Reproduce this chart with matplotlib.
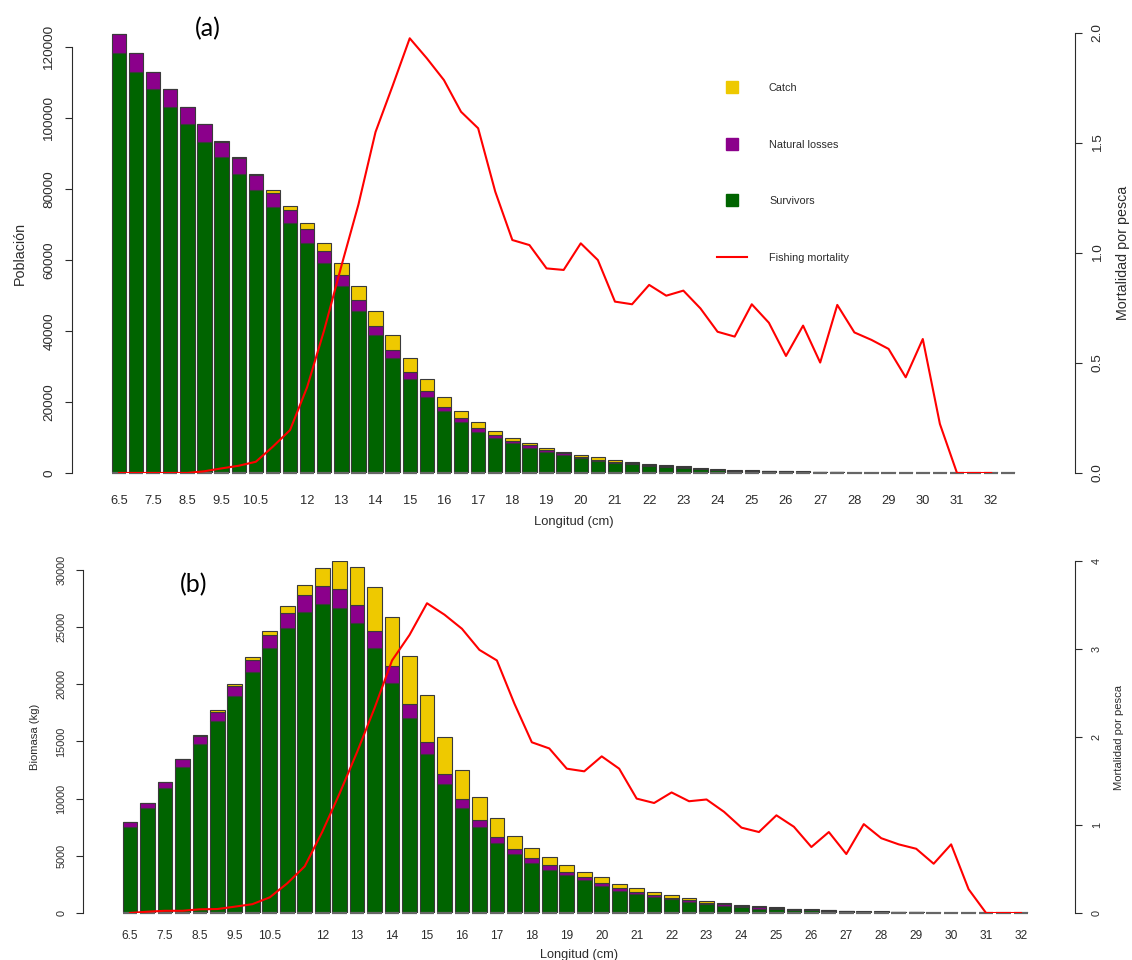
import numpy as np
import matplotlib.pyplot as plt
from matplotlib.lines import Line2D

plt.rcParams['font.family'] = ['Liberation Sans', 'DejaVu Sans']
TXT = '#2b2b2b'
plt.rcParams['text.color'] = TXT
plt.rcParams['axes.labelcolor'] = TXT
plt.rcParams['xtick.color'] = TXT
plt.rcParams['ytick.color'] = TXT

GREEN = '#006400'
PURPLE = '#8B008B'
YELLOW = '#EEC900'
EDGE = '#3a3a3a'
BAR_W = 0.42

# length classes (cm)
len_a = np.arange(6.5, 33.0, 0.5)      # 53 classes in panel (a)
len_b = np.arange(6.5, 32.5, 0.5)      # 52 classes in panel (b)
len_f = np.arange(6.5, 32.5, 0.5)      # fishing mortality points

tick_pos = [6.5, 7.5, 8.5, 9.5, 10.5, 12, 13, 14, 15, 16, 17, 18, 19, 20, 21,
            22, 23, 24, 25, 26, 27, 28, 29, 30, 31, 32]
tick_lab = ['6.5', '7.5', '8.5', '9.5', '10.5', '12', '13', '14', '15', '16',
            '17', '18', '19', '20', '21', '22', '23', '24', '25', '26', '27',
            '28', '29', '30', '31', '32']

# (a) population numbers
surv_a = [118200, 113000, 108100, 103000, 98200, 93300, 88900, 84100, 79600,
          75000, 70300, 64900, 59100, 52700, 45600, 38900, 32300, 26400, 21500,
          17500, 14400, 11600, 9900, 8400, 7000, 5900, 5000, 4200, 3500, 2900,
          2400, 2000, 1700, 1500, 1100, 800, 600, 600, 450, 400, 300, 200, 150,
          50, 0, 0, 0, 0, 0, 0, 0, 0, 0]
nat_a = [5500, 5200, 4900, 5100, 4800, 4900, 4400, 4600, 4300, 4000, 3800,
         3700, 3500, 3100, 3000, 2500, 2400, 2000, 1600, 1200, 1100, 1200, 900,
         700, 800, 600, 500, 400, 300, 300, 300, 200, 200, 150, 100, 100, 100,
         50, 50, 50, 50, 20, 20, 20, 0, 0, 0, 0, 0, 0, 0, 0, 0]
catch_a = [0, 0, 0, 0, 50, 100, 100, 300, 300, 600, 1000, 1900, 2300, 3300,
           4100, 4200, 4200, 3900, 3300, 2800, 2000, 1600, 900, 900, 700, 500,
           400, 500, 600, 500, 500, 400, 300, 250, 200, 200, 100, 150, 100, 100,
           100, 80, 80, 30, 0, 0, 0, 0, 0, 0, 0, 0, 0]
fmort_a = [0, 0, 0, 0, 0, 0.008, 0.021, 0.033, 0.051, 0.12, 0.195, 0.39, 0.65,
           0.94, 1.22, 1.55, 1.76, 1.976, 1.885, 1.786, 1.642, 1.567, 1.279,
           1.059, 1.036, 0.93, 0.923, 1.044, 0.968, 0.779, 0.767, 0.855, 0.806,
           0.829, 0.748, 0.642, 0.62, 0.767, 0.683, 0.532, 0.67, 0.502, 0.764,
           0.639, 0.605, 0.564, 0.435, 0.609, 0.223, 0, 0, 0]

# (b) biomass (kg)
surv_b = [7550, 9160, 10910, 12800, 14790, 16830, 18960, 21050, 23150, 24900,
          26300, 27000, 26710, 25340, 23150, 20150, 17030, 13940, 11310, 9190,
          7490, 6120, 5130, 4400, 3760, 3300, 2860, 2360, 1950, 1660, 1370,
          1200, 960, 790, 640, 500, 390, 350, 270, 230, 180, 140, 100, 100, 60,
          60, 0, 0, 0, 0, 0, 0]
nat_b = [380, 460, 520, 640, 650, 750, 900, 1100, 1200, 1350, 1500, 1580, 1610,
         1600, 1520, 1430, 1260, 1050, 850, 780, 620, 530, 440, 440, 410, 290,
         260, 290, 210, 210, 200, 110, 140, 120, 110, 130, 100, 80, 60, 50, 40,
         30, 30, 20, 20, 20, 0, 0, 0, 0, 0, 0]
catch_b = [0, 0, 0, 0, 100, 150, 150, 200, 300, 580, 900, 1600, 2450, 3300,
           3880, 4350, 4220, 4050, 3270, 2510, 2010, 1630, 1170, 820, 700, 580,
           470, 470, 380, 290, 300, 240, 180, 140, 100, 100, 120, 70, 50, 40, 40,
           30, 30, 30, 10, 10, 0, 0, 0, 0, 0, 0]
fmort_b = [0.0, 0.015, 0.025, 0.025, 0.042, 0.045, 0.072, 0.10, 0.178, 0.337,
           0.53, 0.92, 1.36, 1.83, 2.33, 2.87, 3.16, 3.52, 3.39, 3.23, 2.99,
           2.87, 2.38, 1.94, 1.87, 1.64, 1.61, 1.78, 1.64, 1.30, 1.25, 1.37,
           1.27, 1.29, 1.15, 0.97, 0.92, 1.11, 0.98, 0.75, 0.92, 0.67, 1.01,
           0.85, 0.78, 0.73, 0.56, 0.78, 0.27, 0, 0, 0]


def panel(rect, x, surv, nat, catch, fm, xlim, ylim, yticks, y2lim, y2ticks,
          ylabel, fs_y, fs_x, fs_lab, fs_xlab, xpad, xlabpad):
    ax = fig.add_axes(rect)
    surv = np.array(surv, float)
    nat = np.array(nat, float)
    catch = np.array(catch, float)
    kw = dict(width=BAR_W, edgecolor=EDGE, linewidth=0.8)
    ax.bar(x, surv, color=GREEN, **kw)
    ax.bar(x, nat, bottom=surv, color=PURPLE, **kw)
    ax.bar(x, catch, bottom=surv + nat, color=YELLOW, **kw)
    # bottom outline of every bar (also visible for empty classes)
    ax.hlines(np.zeros(len(x)), x - BAR_W / 2, x + BAR_W / 2, color='#666666',
              lw=1.6, clip_on=False, zorder=3)
    ax.set_xlim(*xlim)
    ax.set_ylim(*ylim)
    for s in ['top', 'right', 'bottom']:
        ax.spines[s].set_visible(False)
    ax.spines['left'].set_bounds(yticks[0], yticks[-1])
    ax.spines['left'].set_color(TXT)
    ax.set_yticks(yticks)
    ax.set_yticklabels([str(v) for v in yticks], fontsize=fs_y)
    for lab in ax.get_yticklabels():
        lab.set_rotation(90)
        lab.set_va('center')
    ax.tick_params(axis='y', length=5, width=0.8, pad=7)
    ax.set_xticks(tick_pos)
    ax.set_xticklabels(tick_lab, fontsize=fs_x)
    ax.tick_params(axis='x', length=0, pad=xpad)
    ax.set_xlabel('Longitud (cm)', fontsize=fs_xlab, labelpad=xlabpad)
    ax.set_ylabel(ylabel, fontsize=fs_lab, labelpad=12)

    ax2 = ax.twinx()
    ax2.plot(len_f, fm, color='red', lw=1.5)
    ax2.set_ylim(*y2lim)
    for s in ['top', 'left', 'bottom']:
        ax2.spines[s].set_visible(False)
    ax2.spines['right'].set_bounds(y2ticks[0], y2ticks[-1])
    ax2.spines['right'].set_color(TXT)
    ax2.set_yticks(y2ticks)
    ax2.set_yticklabels([('%g' % v if y2lim[1] > 2 else '%.1f' % v) for v in y2ticks],
                        fontsize=fs_y)
    for lab in ax2.get_yticklabels():
        lab.set_rotation(90)
        lab.set_va('center')
    ax2.tick_params(axis='y', length=5, width=0.8, pad=7)
    ax2.set_ylabel('Mortalidad por pesca', fontsize=fs_lab, labelpad=9)
    return ax, ax2


fig = plt.figure(figsize=(11.32, 9.6), dpi=100)

# panel (a)
panel([72 / 1132, 487 / 960, 1003 / 1132, 440 / 960], len_a,
      surv_a, nat_a, catch_a, fmort_a, (5.126, 34.45), (0, 123944),
      [0, 20000, 40000, 60000, 80000, 100000, 120000], (0, 2.0),
      [0.0, 0.5, 1.0, 1.5, 2.0], 'Población', 9.7, 9.3, 10.3, 9.4, 16, 6)

# panel (b)
panel([83 / 1132, 47 / 960, 992 / 1132, 352 / 960], len_b,
      surv_b, nat_b, catch_b, fmort_b, (5.155, 33.545), (0, 30787),
      [0, 5000, 10000, 15000, 20000, 25000, 30000], (0, 4),
      [0, 1, 2, 3, 4], 'Biomasa (kg)', 7.8, 8.6, 8.1, 9.2, 12, 5)

fig.text(208 / 1132, 1 - 29 / 960, '(a)', family='Lato', fontsize=18,
         ha='center', va='center', color='black')
fig.text(194 / 1132, 1 - 585 / 960, '(b)', family='Lato', fontsize=18,
         ha='center', va='center', color='black')

handles = [Line2D([], [], marker='s', ms=8.6, ls='none', mfc=YELLOW, mec=YELLOW),
           Line2D([], [], marker='s', ms=8.6, ls='none', mfc=PURPLE, mec=PURPLE),
           Line2D([], [], marker='s', ms=8.6, ls='none', mfc=GREEN, mec=GREEN),
           Line2D([], [], color='red', lw=1.5)]
fig.legend(handles, ['Catch', 'Natural losses', 'Survivors', 'Fishing mortality'],
           loc='upper left', bbox_to_anchor=(717 / 1132, 1 - 83 / 960),
           frameon=False, fontsize=7.8, handlelength=2.77, handletextpad=2.03,
           labelspacing=4.3, borderpad=0, borderaxespad=0)

fig.savefig('out.png', dpi=100)
